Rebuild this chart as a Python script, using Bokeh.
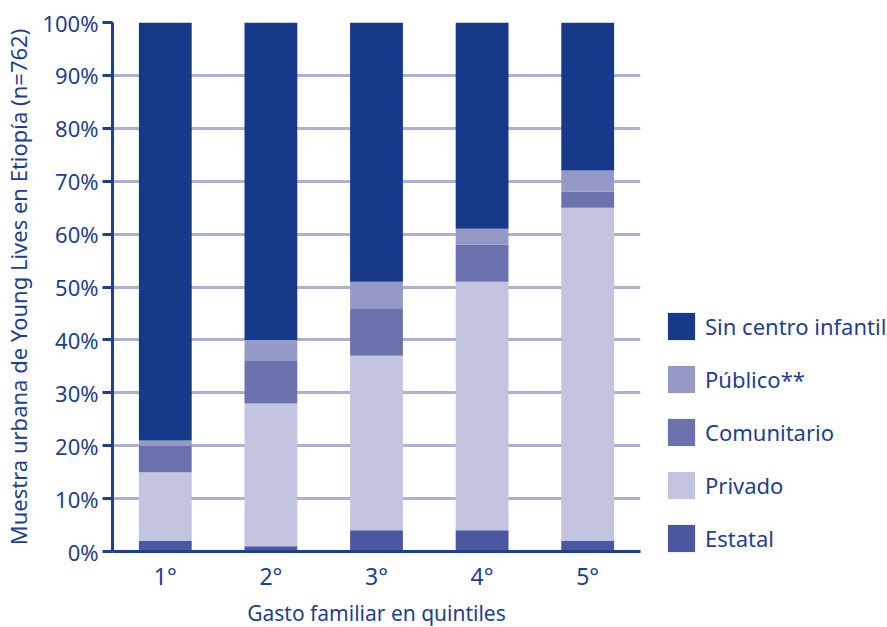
from bokeh.plotting import figure
from bokeh.models import ColumnDataSource, Legend, LegendItem, FixedTicker, NumeralTickFormatter
from bokeh.embed import file_html
from bokeh.resources import INLINE

quintiles = ["1°", "2°", "3°", "4°", "5°"]
estatal = [2, 1, 4, 4, 2]
privado = [13, 27, 33, 47, 63]
comunitario = [5, 8, 9, 7, 3]
publico = [1, 4, 5, 3, 4]
sin_centro = [79, 60, 49, 39, 28]

series_names = ["Estatal", "Privado", "Comunitario", "Público**", "Sin centro infantil"]
series_keys = ["estatal", "privado", "comunitario", "publico", "sin_centro"]
colors = ["#4b579e", "#c3c4e0", "#6c72ae", "#9599c6", "#17398a"]
y_ticks = [0, 0.1, 0.2, 0.3, 0.4, 0.5, 0.6, 0.7, 0.8, 0.9, 1.0]

NAVY = "#1f3f8f"
FONT = "Noto Sans"
FS = "22px"

data = dict(q=quintiles,
            estatal=[v / 100 for v in estatal],
            privado=[v / 100 for v in privado],
            comunitario=[v / 100 for v in comunitario],
            publico=[v / 100 for v in publico],
            sin_centro=[v / 100 for v in sin_centro])
source = ColumnDataSource(data)

p = figure(x_range=quintiles, y_range=(0, 1.0),
           frame_width=528, frame_height=529,
           output_backend="svg", toolbar_location=None,
           min_border_left=112, min_border_top=22, min_border_bottom=76,
           min_border_right=0)
p.outline_line_color = None

renderers = p.vbar_stack(series_keys, x="q", width=0.5, source=source,
                         color=colors, line_color=None)

items = [LegendItem(label=series_names[i], renderers=[renderers[i]]) for i in range(4, -1, -1)]
legend = Legend(items=items, location=(24, -4), orientation="vertical",
                glyph_width=34, glyph_height=34, label_height=34,
                spacing=19, padding=0, margin=0, label_standoff=7,
                border_line_color=None, background_fill_alpha=0,
                label_text_font=FONT, label_text_font_size=FS,
                label_text_color=NAVY)
p.add_layout(legend, "right")

# grid
p.xgrid.grid_line_color = None
p.ygrid.grid_line_color = "#aeb0d4"
p.ygrid.grid_line_width = 3
p.ygrid.level = "underlay"
p.yaxis.ticker = FixedTicker(ticks=y_ticks)
p.yaxis.formatter = NumeralTickFormatter(format="0%")

for ax in (p.xaxis[0], p.yaxis[0]):
    ax.axis_line_color = NAVY
    ax.axis_line_width = 3
    ax.major_label_text_font = FONT
    ax.major_label_text_font_size = FS
    ax.major_label_text_color = NAVY
    ax.axis_label_text_font = FONT
    ax.axis_label_text_font_size = FS
    ax.axis_label_text_color = NAVY
    ax.axis_label_text_font_style = "normal"
    ax.minor_tick_line_color = None

p.yaxis.major_tick_line_color = NAVY
p.yaxis.major_tick_line_width = 3
p.yaxis.major_tick_out = 10
p.yaxis.major_tick_in = 0
p.yaxis.major_label_standoff = 4
p.yaxis.axis_label = "Muestra urbana de Young Lives en Etiopía (n=762)"
p.yaxis.axis_label_standoff = 6

p.xaxis.major_label_text_font_size = "23px"
p.xaxis.major_tick_line_color = None
p.xaxis.major_label_standoff = 2
p.xaxis.axis_label = "Gasto familiar en quintiles"
p.xaxis.axis_label_text_font_size = "21px"
p.xaxis.axis_label_standoff = 4

open("out.html", "w").write(file_html(p, INLINE))
